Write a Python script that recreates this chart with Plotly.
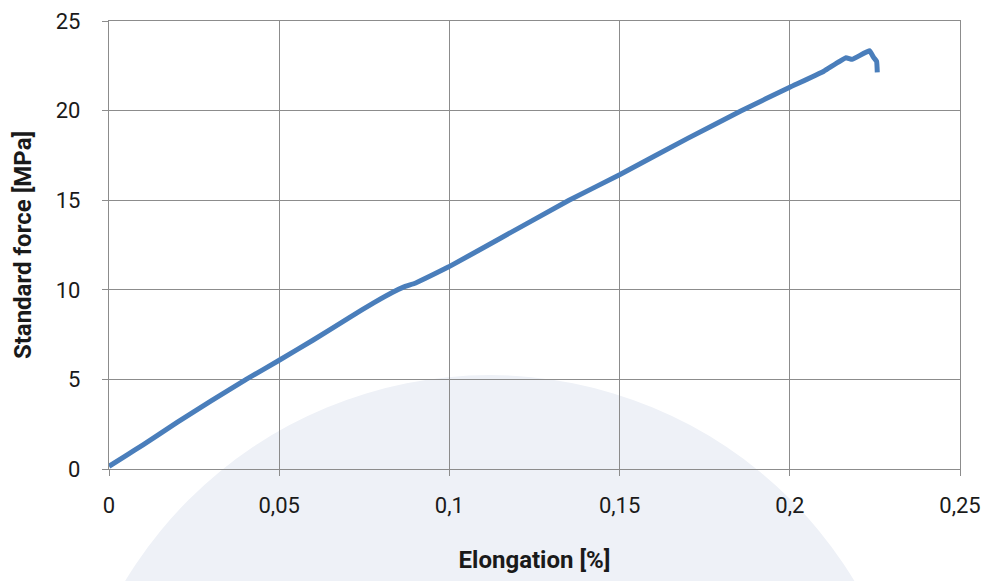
import plotly.graph_objects as go

elongation = [0.0, 0.005, 0.01, 0.02, 0.03, 0.0403, 0.05, 0.06, 0.0706, 0.078, 0.0835,
              0.0865, 0.0901, 0.0945, 0.0998, 0.115, 0.135, 0.15, 0.17, 0.1856,
              0.2, 0.21, 0.2165, 0.2183, 0.2234, 0.2246, 0.2255, 0.2257]
force = [0.15, 0.75, 1.35, 2.6, 3.8, 5.0, 6.07, 7.2, 8.45, 9.3, 9.88,
         10.15, 10.38, 10.78, 11.28, 12.88, 14.98, 16.42, 18.45, 19.98,
         21.3, 22.2, 22.95, 22.86, 23.34, 22.97, 22.75, 22.13]

x_ticks = [0, 0.05, 0.1, 0.15, 0.2, 0.25]
x_tick_labels = ["0", "0,05", "0,1", "0,15", "0,2", "0,25"]
y_ticks = [0, 5, 10, 15, 20, 25]
y_tick_labels = ["0", "5", "10", "15", "20", "25"]

font_family = "Roboto, Open Sans, sans-serif"
grid_col = "#8c8c8c"

W, H = 982, 573
L, T, PW, PH = 101, 12.5, 851.5, 448.5

fig = go.Figure()
fig.add_trace(go.Scatter(
    x=elongation, y=force, mode="lines",
    line=dict(color="#4a7ebb", width=5, shape="spline", smoothing=0.3),
    showlegend=False, hoverinfo="skip"))

# faint background watermark (in page pixels relative to plot area)
cx, cy, r = 490 - 8, 801 - 8, 426
fig.add_shape(type="circle", xref="paper", yref="paper",
              x0=(cx - r - L) / PW, x1=(cx + r - L) / PW,
              y0=(T + PH - (cy + r)) / PH, y1=(T + PH - (cy - r)) / PH,
              fillcolor="#eef1f7", line=dict(width=0), layer="below")

fig.update_layout(
    width=W, height=H,
    margin=dict(l=L, r=W - L - PW, t=T, b=H - T - PH),
    paper_bgcolor="white", plot_bgcolor="rgba(0,0,0,0)",
    font=dict(family=font_family, size=22, color="#1a1a1a"),
    xaxis=dict(range=[0, 0.25], tickvals=x_ticks, ticktext=x_tick_labels,
               showgrid=True, gridcolor=grid_col, gridwidth=1.3,
               showline=True, linecolor=grid_col, linewidth=1.3, mirror=True,
               ticks="outside", ticklen=6, tickcolor=grid_col, tickwidth=1.3,
               ticklabelstandoff=10, zeroline=False, automargin=False,
               title=dict(text="<b>Elongation [%]</b>", standoff=34,
                          font=dict(size=24, family=font_family))),
    yaxis=dict(range=[0, 25], tickvals=y_ticks, ticktext=y_tick_labels,
               showgrid=True, gridcolor=grid_col, gridwidth=1.3,
               showline=True, linecolor=grid_col, linewidth=1.3, mirror=True,
               ticks="outside", ticklen=6, tickcolor=grid_col, tickwidth=1.3,
               ticklabelstandoff=17, zeroline=False, automargin=False,
               title=dict(text="<b>Standard force [MPa]</b>", standoff=17,
                          font=dict(size=24, family=font_family))),
)

fig.write_html("out.html")
